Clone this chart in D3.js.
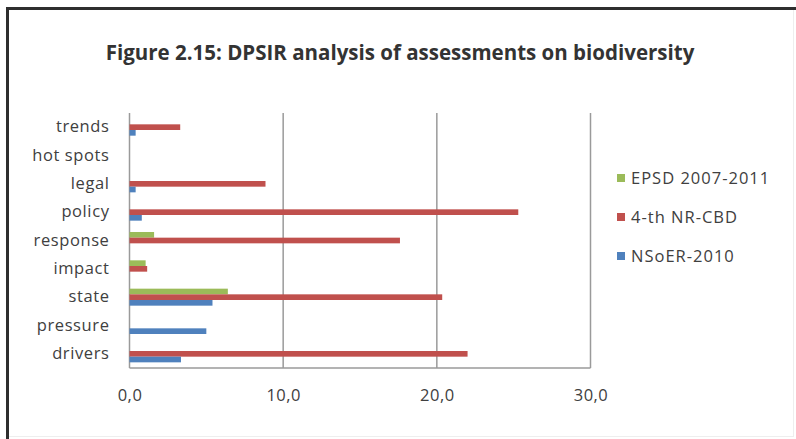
<!DOCTYPE html>
<html><head><meta charset="utf-8">
<script src="https://cdn.jsdelivr.net/npm/d3@7"></script>
<style>
html,body{margin:0;padding:0;background:#fff;}
svg{display:block;font-family:"Open Sans",Lato,sans-serif;}
</style></head>
<body>
<svg id="chart" width="796" height="439"></svg>
<script>
const categories = ["drivers","pressure","state","impact","response","policy","legal","hot spots","trends"];
const seriesNames = ["EPSD 2007-2011","4-th NR-CBD","NSoER-2010"];
const epsd  = [0, 0, 6.4, 1.05, 1.6, 0, 0, 0, 0];
const nrcbd = [22.0, 0, 20.35, 1.15, 17.6, 25.3, 8.85, 0, 3.3];
const nsoer = [3.35, 5.0, 5.4, 0, 0, 0.8, 0.4, 0, 0.4];
const xTicks = [0, 10, 20, 30];
const colors = ["#9BBB59","#C0504D","#4F81BD"];

(function(){
const svg = d3.select("#chart");
const textColor = "#404040";
const ff = "'Open Sans',Lato,sans-serif";

// frame
svg.append("rect").attr("x",0).attr("y",0).attr("width",796).attr("height",439).attr("fill","#fff");
svg.append("line").attr("x1",7.5).attr("x2",7.5).attr("y1",8).attr("y2",439).attr("stroke","#2e2e2e").attr("stroke-width",3);
svg.append("line").attr("x1",6).attr("x2",796).attr("y1",8.5).attr("y2",8.5).attr("stroke","#2e2e2e").attr("stroke-width",3);
svg.append("line").attr("x1",793.5).attr("x2",793.5).attr("y1",10).attr("y2",436).attr("stroke","#eeeeee").attr("stroke-width",1);
svg.append("line").attr("x1",9).attr("x2",794).attr("y1",436.5).attr("y2",436.5).attr("stroke","#eeeeee").attr("stroke-width",1);

// title
svg.append("text").attr("x",400).attr("y",60).attr("text-anchor","middle")
  .attr("font-weight","bold").attr("font-size",20.5).attr("fill","#333")
  .text("Figure 2.15: DPSIR analysis of assessments on biodiversity");

const pl = 129.5, pr = 590.5, pt = 113, pb = 368;
const x = d3.scaleLinear().domain([0,30]).range([pl,pr]);
const y = d3.scaleBand().domain(categories.slice().reverse()).range([pt,pb]).paddingInner(0.4).paddingOuter(0.2);
const ySub = d3.scaleBand().domain(seriesNames).range([0,y.bandwidth()]);

// gridlines
svg.append("g").selectAll("line").data(xTicks).join("line")
  .attr("x1",d=>x(d)).attr("x2",d=>x(d)).attr("y1",pt).attr("y2",pb)
  .attr("stroke","#9a9a9a").attr("stroke-width",1.5);
svg.append("line").attr("x1",pl).attr("x2",pr).attr("y1",pb).attr("y2",pb)
  .attr("stroke","#9a9a9a").attr("stroke-width",1.5);

// bars
const allSeries = [epsd, nrcbd, nsoer];
allSeries.forEach((vals, si) => {
  svg.append("g").selectAll("rect").data(categories.map((c,i)=>({c, v: vals[i]})).filter(d=>d.v>0)).join("rect")
    .attr("x", x(0))
    .attr("y", d => y(d.c) + ySub(seriesNames[si]))
    .attr("width", d => x(d.v) - x(0))
    .attr("height", ySub.bandwidth())
    .attr("fill", colors[si]);
});

// x axis labels
const xAxis = d3.axisBottom(x).tickValues(xTicks).tickSize(0).tickPadding(21)
  .tickFormat(d => d3.format(".1f")(d).replace(".", ","));
const gx = svg.append("g").attr("transform",`translate(0,${pb})`).call(xAxis);
gx.select(".domain").remove();
gx.selectAll("text").attr("font-size",16.5).attr("letter-spacing",0.5).attr("fill",textColor).attr("font-family",ff);

// y axis labels
const yAxis = d3.axisLeft(y).tickSize(0).tickPadding(20);
const gy = svg.append("g").attr("transform",`translate(${pl},0)`).call(yAxis);
gy.select(".domain").remove();
gy.selectAll("text").attr("font-size",16.5).attr("letter-spacing",0.6).attr("fill",textColor).attr("font-family",ff);

// legend
const leg = svg.append("g").attr("transform","translate(617,0)");
const legY = [178, 217, 256];
seriesNames.forEach((n,i)=>{
  leg.append("rect").attr("x",0).attr("y",legY[i]-4).attr("width",8).attr("height",8).attr("fill",colors[i]);
  leg.append("text").attr("x",14).attr("y",legY[i]).attr("dy","0.35em").attr("font-size",16.5)
    .attr("letter-spacing",1).attr("fill",textColor).text(n);
});
})();
</script>
</body></html>
